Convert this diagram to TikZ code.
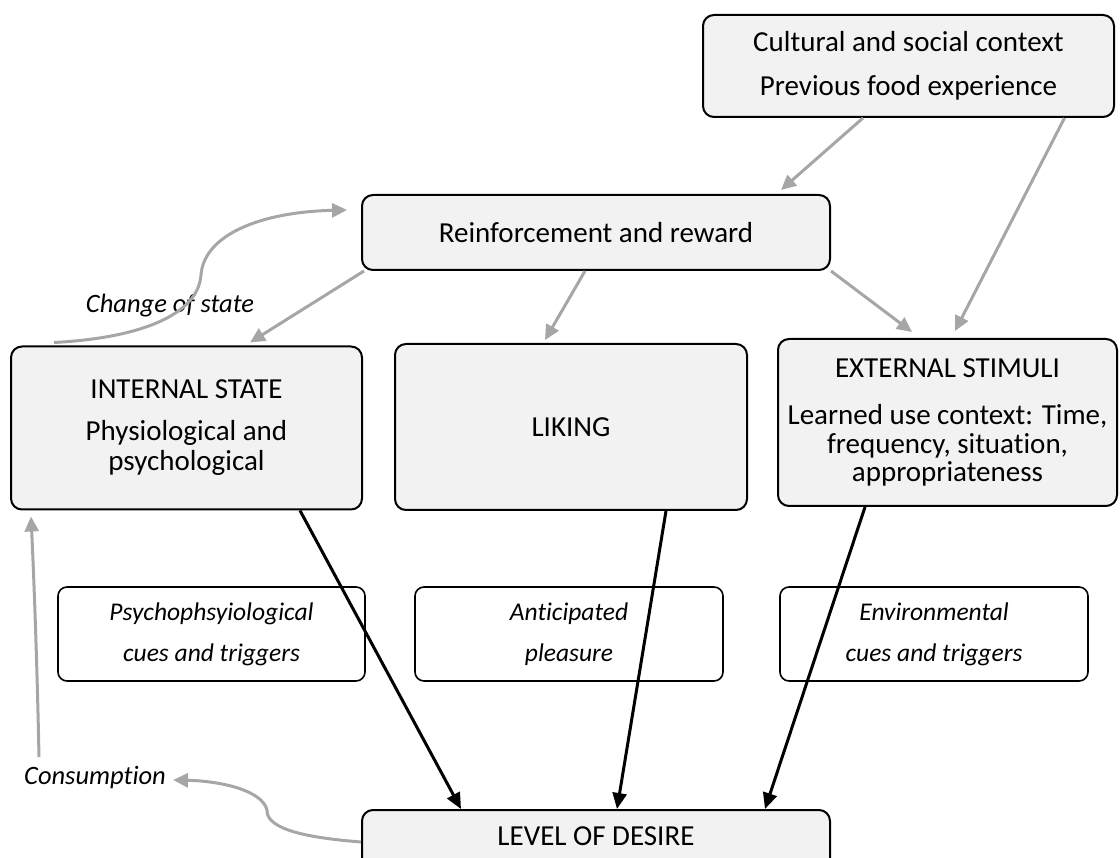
\documentclass[tikz,border=0pt]{standalone}
\usepackage{fontspec}
\setmainfont{Carlito}[Ligatures=NoCommon]
\usetikzlibrary{arrows.meta}
\definecolor{boxfill}{HTML}{F2F2F2}
\definecolor{linkgray}{HTML}{A6A6A6}

\begin{document}
\begin{tikzpicture}[x=1pt,y=-1pt,
  font=\fontsize{29}{30}\selectfont,
  greybox/.style={draw=black, line width=2pt, fill=boxfill, rounded corners=11pt,
                  align=center, inner sep=0pt},
  cuebox/.style={draw=black, line width=1.6pt, fill=white, rounded corners=9pt,
                 align=center, inner sep=0pt, font=\fontsize{25.5}{30}\selectfont\itshape},
  tag/.style={inner sep=0pt, font=\fontsize{26.5}{30}\selectfont\itshape},
  greyarrow/.style={draw=linkgray, line width=3pt, -{Triangle[length=15pt,width=14pt]}},
  blackarrow/.style={draw=black, line width=3pt, -{Triangle[length=16pt,width=14pt]}}]

\useasboundingbox (0,0) rectangle (1120,858);
\clip (0,0) rectangle (1120,858);

% boxes
\node[greybox, minimum width=411pt, minimum height=102pt] (ctx) at (908.5,66)
  {Cultural and social context\\[14pt]Previous food experience};
\node[greybox, minimum width=468pt, minimum height=75pt] (rew) at (596,232.5)
  {Reinforcement and reward};
\node[greybox, minimum width=351pt, minimum height=163pt] (int) at (186.5,428)
  {INTERNAL STATE\\[12pt]Physiological and\\psychological};
\node[greybox, minimum width=352pt, minimum height=166pt] (lik) at (571,427)
  {LIKING};
\node[greybox, minimum width=339pt, minimum height=167pt] (ext) at (947.5,422.5)
  {EXTERNAL STIMULI\\[17pt]Learned use context: Time,\\[-1pt]frequency, situation,\\[-2pt]appropriateness};

\node[cuebox, minimum width=307pt, minimum height=94pt] (cue1) at (211.5,634)
  {Psychophsyiological\\[11pt]cues and triggers};
\node[cuebox, minimum width=308pt, minimum height=94pt] (cue2) at (569,634)
  {Anticipated\\[11pt]pleasure};
\node[cuebox, minimum width=308pt, minimum height=94pt] (cue3) at (934,634)
  {Environmental\\[11pt]cues and triggers};

\node[greybox, minimum width=468pt, minimum height=90pt, text height=21pt,
      text depth=40pt, anchor=north] (des) at (596,809) {LEVEL OF DESIRE};

% labels
\node[tag] (chg) at (170,306) {Change of state};
\node[tag] (cons) at (95,778) {Consumption};
\coordinate (consbase) at (39,757);

% grey links
\draw[greyarrow] ([xshift=-45.5pt]ctx.south) -- ([xshift=-50pt,yshift=4pt]rew.north east);
\draw[greyarrow] ([xshift=156pt]ctx.south) -- ([xshift=7.5pt,yshift=7pt]ext.north);
\draw[greyarrow] ([xshift=3pt]rew.south west) -- ([xshift=63.5pt,yshift=3pt]int.north);
\draw[greyarrow] ([xshift=-11pt]rew.south) -- ([xshift=-26pt,yshift=3pt]lik.north);
\draw[greyarrow] (rew.south east) -- ([xshift=-35.5pt,yshift=6pt]ext.north);

% feedback loops
\draw[greyarrow] ([xshift=44pt,yshift=3pt]int.north west)
  .. controls (140,338) and (198,315) .. (201,275)
  .. controls (204,235) and (260,212) .. ([xshift=-14pt,yshift=22.5pt]rew.west);
\draw[greyarrow] ([yshift=13pt]des.west)
  .. controls (310,838) and (266,830) .. (267,810)
  .. controls (262,790) and (220,781) .. ([xshift=7pt,yshift=-2pt]cons.east);
\draw[greyarrow] (consbase) .. controls (37,660) and (34,580)
  .. ([xshift=21pt,yshift=-6pt]int.south west);

% black links to level of desire
\draw[blackarrow] ([xshift=113.5pt]int.south) -- ([xshift=-135pt]des.north);
\draw[blackarrow] ([xshift=95pt]lik.south) -- ([xshift=21pt]des.north);
\draw[blackarrow] ([xshift=-82.5pt]ext.south) -- ([xshift=169pt]des.north);

\end{tikzpicture}
\end{document}
